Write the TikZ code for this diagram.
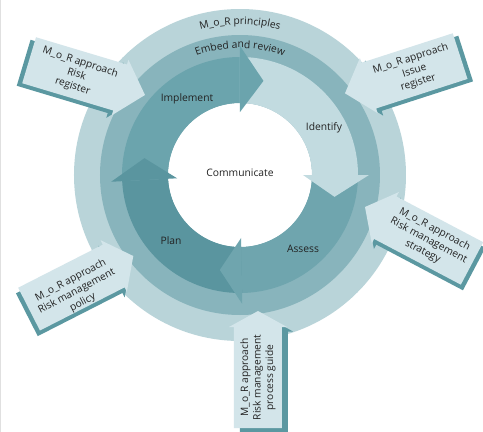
\documentclass[tikz,border=0pt]{standalone}
\usepackage{fontspec}
\setmainfont{Open Sans}
\usetikzlibrary{decorations.text}
\definecolor{outerc}{HTML}{B9D4D9}
\definecolor{midc}{HTML}{88B4BC}
\definecolor{implc}{HTML}{6BA4AD}
\definecolor{identc}{HTML}{C2DBE0}
\definecolor{assessc}{HTML}{6FA5AE}
\definecolor{planc}{HTML}{5A959F}
\definecolor{callc}{HTML}{D3E5EA}
\definecolor{shadc}{HTML}{5B98A1}
\definecolor{txtc}{HTML}{222222}
\newcommand{\ringband}[3]{%
  \fill[#1] (#2:72) arc[start angle=#2, end angle=#3, radius=72] -- (#3:118) arc[start angle=#3, end angle=#2, radius=118] -- cycle;}
\newcommand{\ringhead}[3]{%
  \fill[#1] (#2:63) -- (#2:129) -- (#3:97) -- cycle;}
% #1 name, #2 tip, #3 axis angle (tip->back), #4 head length, #5 body length,
% #6 shadow side offset, #7 text rotation, #8 text, #9 text offset (local x,y)
\newcommand{\mocallout}[9]{%
  \begin{scope}[shift={(#2)},rotate=#3]
    \begin{scope}[shift={(4.5,#6)}]
      \fill[shadc] (0,0) -- (#4,29) -- (#4,24) -- ({#4+#5},24) -- ({#4+#5},-24) -- (#4,-24) -- (#4,-29) -- cycle;
    \end{scope}
    \fill[callc] (0,0) -- (#4,29) -- (#4,24) -- ({#4+#5},24) -- ({#4+#5},-24) -- (#4,-24) -- (#4,-29) -- cycle;
    \node[caltext,rotate=#7] (#1) at ($({#4+#5/2},0)+(#9)$) {#8};
  \end{scope}}
\usetikzlibrary{calc}
\begin{document}
\begin{tikzpicture}[x=1pt,y=1pt,
  caltext/.style={align=center,inner sep=0pt,text=txtc,font=\fontsize{10.2}{12.6}\selectfont},
  cyctext/.style={inner sep=0pt,text=txtc,font=\fontsize{10.3}{12}\selectfont}]
\useasboundingbox (-240,-257) rectangle (243,175);
\fill[white] (-240,-257) rectangle (243,175);
\draw[black!12,line width=1.5pt] (-239.25,175) -- (-239.25,-257);
% rings
\fill[outerc] (0,0) circle[radius=166];
\fill[midc] (0,0) circle[radius=140];
\fill[white] (0,0) circle[radius=72];
% cycle bands
\ringband{implc}{183}{90}
\ringband{identc}{90}{0}
\ringband{assessc}{0}{-89}
\ringband{planc}{-89}{-177}
% heads
\ringhead{implc}{90}{76}
\ringhead{identc}{0}{-13}
\ringhead{assessc}{-89}{-102}
\ringhead{planc}{-177}{-190}
% ring texts
\path[decorate,decoration={text along path,text align=center,
  text={|\fontsize{10.3}{12}\selectfont\color{txtc}|M{\_}o{\_}R principles}}]
  (130:150.5) arc[start angle=130,end angle=50,radius=150.5];
\path[decorate,decoration={text along path,text align=center,
  text={|\fontsize{10.3}{12}\selectfont\color{txtc}|Embed and review}}]
  (130:127) arc[start angle=130,end angle=50,radius=127];
% cycle texts
\node[cyctext] (impl) at (-53,76) {Implement};
\node[cyctext] (ident) at (84,47) {Identify};
\node[cyctext] (assess) at (63,-74) {Assess};
\node[cyctext] (plan) at (-69,-66) {Plan};
\node[cyctext] (comm) at (0,2) {Communicate};
% callouts
\mocallout{c1}{-95,80}{163.3}{26}{95}{4}{-18}{M\_o\_R approach\\Risk\\register}{-2,0}
\mocallout{c2}{105,81.7}{17.9}{25}{96}{-4}{18}{M\_o\_R approach\\Issue\\register}{0,0}
\mocallout{c3}{125,-32}{-27.8}{23}{98}{-4}{-28}{M\_o\_R approach\\Risk management\\strategy}{0,0}
\mocallout{c4}{-106.7,-81}{207}{22}{95}{4}{28}{M\_o\_R approach\\Risk management\\policy}{-3,6}
\mocallout{c5}{18,-136}{-90}{16}{101}{6}{90}{M\_o\_R approach\\Risk management\\process guide}{0,0}
\end{tikzpicture}
\end{document}
